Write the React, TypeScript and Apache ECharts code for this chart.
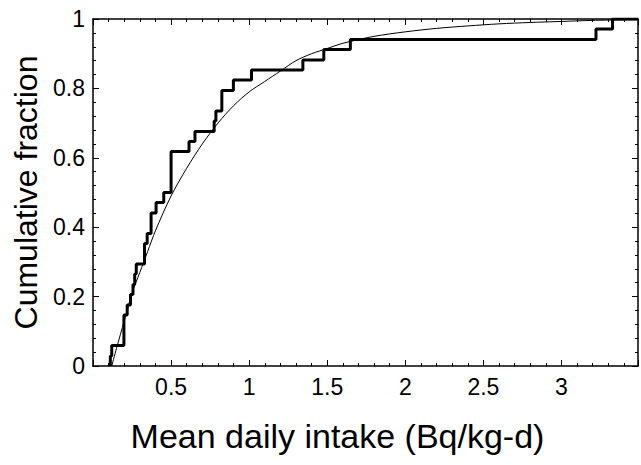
import React, { useEffect, useRef } from "react";
import * as echarts from "echarts";

// Empirical CDF: distinct step positions (Bq/kg-d) and the cumulative fraction reached there
const stepX = [0.111, 0.12, 0.198, 0.219, 0.24, 0.256, 0.267, 0.277, 0.33, 0.347, 0.372, 0.404, 0.453, 0.5, 0.615, 0.653, 0.776, 0.787, 0.825, 0.899, 1.015, 1.344, 1.478, 1.648, 3.221, 3.327];
const stepY = [0.029, 0.059, 0.147, 0.176, 0.206, 0.235, 0.265, 0.294, 0.353, 0.382, 0.441, 0.471, 0.5, 0.618, 0.647, 0.676, 0.706, 0.735, 0.794, 0.824, 0.853, 0.882, 0.912, 0.941, 0.971, 1.0];

// Fitted distribution curve
const fitX = [0.12, 0.15, 0.2, 0.25, 0.3, 0.35, 0.4, 0.5, 0.6, 0.7, 0.8, 0.9, 1.0, 1.1, 1.2, 1.3, 1.4, 1.5, 1.6, 1.8, 2.0, 2.2, 2.4, 2.6, 2.8, 3.0, 3.2, 3.49];
const fitY = [0, 0.05, 0.13, 0.21, 0.27, 0.33, 0.39, 0.49, 0.57, 0.64, 0.7, 0.75, 0.79, 0.82, 0.85, 0.88, 0.9, 0.915, 0.93, 0.95, 0.963, 0.973, 0.98, 0.986, 0.99, 0.993, 0.996, 0.998];

const xTicks = [0.5, 1, 1.5, 2, 2.5, 3];
const yTicks = [0, 0.2, 0.4, 0.6, 0.8, 1];

const X_MIN = 0;
const X_MAX = 3.49;

export default function App() {
  const ref = useRef<HTMLDivElement>(null);

  useEffect(() => {
    if (!ref.current) return;
    const chart = echarts.init(ref.current, null, { renderer: "svg" });

    const ecdf: number[][] = [[stepX[0], 0]];
    stepX.forEach((x, i) => ecdf.push([x, stepY[i]]));
    ecdf.push([X_MAX, stepY[stepY.length - 1]]);
    const fit = fitX.map((x, i) => [x, fitY[i]]);

    const font = "'Liberation Sans', Arial, Helvetica, sans-serif";
    const lineStyle = { color: "#000", width: 1.5 };
    const tick = { show: true, inside: true, length: 6, lineStyle: { color: "#000", width: 1 } };
    const minor = { show: true, splitNumber: 5, length: 3, lineStyle: { color: "#000", width: 1 } };

    const xLabelFmt = (v: number) => (xTicks.some((t) => Math.abs(t - v) < 1e-9) ? String(v) : "");
    const yLabelFmt = (v: number) => (yTicks.some((t) => Math.abs(t - v) < 1e-9) ? String(v) : "");

    chart.setOption({
      animation: false,
      backgroundColor: "#fff",
      grid: { left: 93, right: 2, top: 19, bottom: 99, containLabel: false },
      xAxis: [
        {
          type: "value",
          position: "bottom",
          min: X_MIN,
          max: X_MAX,
          interval: 0.5,
          axisLine: { show: true, onZero: false, lineStyle },
          axisTick: tick,
          minorTick: minor,
          splitLine: { show: false },
          axisLabel: { formatter: xLabelFmt, color: "#000", fontSize: 23, fontFamily: font, margin: 9 },
          name: "Mean daily intake (Bq/kg-d)",
          nameLocation: "middle",
          nameGap: 53,
          nameTextStyle: { color: "#000", fontSize: 34, fontFamily: font, padding: [0, 56, 0, 0] },
        },
        {
          type: "value",
          position: "top",
          min: X_MIN,
          max: X_MAX,
          interval: 0.5,
          axisLine: { show: true, onZero: false, lineStyle },
          axisTick: tick,
          minorTick: minor,
          splitLine: { show: false },
          axisLabel: { show: false },
        },
      ],
      yAxis: [
        {
          type: "value",
          position: "left",
          min: 0,
          max: 1,
          interval: 0.2,
          axisLine: { show: true, onZero: false, lineStyle },
          axisTick: tick,
          minorTick: minor,
          splitLine: { show: false },
          axisLabel: { formatter: yLabelFmt, color: "#000", fontSize: 23, fontFamily: font, margin: 8 },
          name: "Cumulative fraction",
          nameLocation: "middle",
          nameGap: 40,
          nameRotate: 90,
          nameTextStyle: { color: "#000", fontSize: 32, fontFamily: font },
        },
        {
          type: "value",
          position: "right",
          min: 0,
          max: 1,
          interval: 0.2,
          axisLine: { show: true, onZero: false, lineStyle },
          axisTick: tick,
          minorTick: minor,
          splitLine: { show: false },
          axisLabel: { show: false },
        },
      ],
      series: [
        {
          name: "Fit",
          type: "line",
          xAxisIndex: 0,
          yAxisIndex: 0,
          data: fit,
          smooth: 0.3,
          showSymbol: false,
          symbol: "none",
          lineStyle: { color: "#000", width: 1 },
          z: 3,
        },
        {
          name: "Empirical",
          type: "line",
          xAxisIndex: 0,
          yAxisIndex: 0,
          data: ecdf,
          step: "end",
          showSymbol: false,
          symbol: "none",
          lineStyle: { color: "#000", width: 3 },
          z: 4,
        },
      ],
    });

    return () => chart.dispose();
  }, []);

  return (
    <div
      ref={ref}
      style={{ position: "absolute", left: 0, top: 0, width: 641, height: 465, background: "#fff" }}
    />
  );
}
